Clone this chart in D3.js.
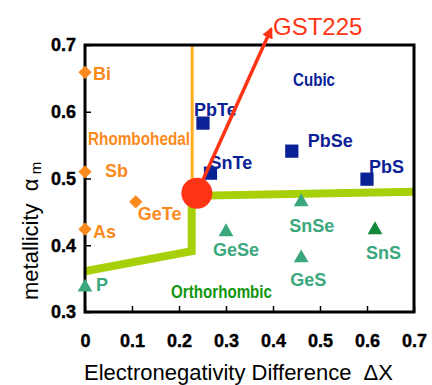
<!DOCTYPE html>
<html>
  <head>
    <meta charset="UTF-8" />
    <title>Metallicity vs Electronegativity Difference</title>
    <style>
      body { margin: 0; background: #fff; }
      text { font-family: Arial, "Liberation Sans", sans-serif; }
      .tick text { font-size: 18px; font-weight: bold; }
      .lbl { font-size: 18px; font-weight: bold; }
    </style>
    <script src="https://d3js.org/d3.v7.min.js"></script>
  </head>
  <body>
    <svg id="viz" width="432" height="385"></svg>
    <script>
      // data
      var rhombo = [
        { name: "Bi", dx: 0, a: 0.659 },
        { name: "Sb", dx: 0, a: 0.51 },
        { name: "As", dx: 0, a: 0.424 },
        { name: "GeTe", dx: 0.108, a: 0.465 },
      ];
      var cubic = [
        { name: "PbTe", dx: 0.251, a: 0.583 },
        { name: "SnTe", dx: 0.267, a: 0.508 },
        { name: "PbSe", dx: 0.44, a: 0.541 },
        { name: "PbS", dx: 0.6, a: 0.499 },
      ];
      var ortho = [
        { name: "P", dx: 0, a: 0.337 },
        { name: "GeSe", dx: 0.3, a: 0.42 },
        { name: "SnSe", dx: 0.46, a: 0.465 },
        { name: "GeS", dx: 0.46, a: 0.381 },
        { name: "SnS", dx: 0.617, a: 0.423 },
      ];
      var gst = { name: "GST225", dx: 0.238, a: 0.478 };
      var arrowTip = { dx: 0.396, a: 0.724 };
      var boundary = [[0, 0.361], [0.227, 0.391], [0.227, 0.474], [0.7, 0.48]];
      var rhomboEdge = [[0.228, 0.7], [0.228, 0.478]];
      var xTicks = [0, 0.1, 0.2, 0.3, 0.4, 0.5, 0.6, 0.7];
      var yTicks = [0.3, 0.4, 0.5, 0.6, 0.7];

      // label offsets in px from the marker (left edge, baseline)
      var labelOff = {
        Bi: [8, 8], Sb: [20, 5], As: [8, 9], GeTe: [2, 18],
        PbTe: [-9, -7], SnTe: [-1, -4], PbSe: [16, -4], PbS: [2, -6],
        P: [11, 4], GeSe: [-13, 24], SnSe: [-12, 30], GeS: [-11, 28], SnS: [-9, 29],
      };

      var orange = "#fb8a1c", navy = "#0b2196", teal = "#3aa87c", red = "#ff3414";

      var svg = d3.select("#viz");
      var x = d3.scaleLinear().domain([0, 0.7]).range([85, 414]);
      var y = d3.scaleLinear().domain([0.3, 0.7]).range([312, 45]);

      var xAxis = d3.axisBottom(x).tickValues(xTicks).tickSizeInner(-6).tickSizeOuter(0)
        .tickPadding(22).tickFormat(function (d) { return d === 0 ? "0" : d3.format(".1f")(d); });
      var yAxis = d3.axisLeft(y).tickValues(yTicks).tickSizeInner(-6).tickSizeOuter(0)
        .tickPadding(9).tickFormat(d3.format(".1f"));

      var gx = svg.append("g").attr("transform", "translate(0,312)").call(xAxis);
      var gy = svg.append("g").attr("transform", "translate(85,0)").call(yAxis);
      [gx, gy].forEach(function (g) {
        g.select(".domain").remove();
        g.selectAll(".tick line").attr("stroke", "#000").attr("stroke-width", 1.5);
        g.selectAll(".tick text").attr("fill", "#000").attr("stroke", "#000").attr("stroke-width", 0.4);
      });

      // orange boundary
      var line = d3.line().x(function (d) { return x(d[0]); }).y(function (d) { return y(d[1]); });
      svg.append("path").attr("d", line(rhomboEdge)).attr("stroke", "#ffad20")
        .attr("stroke-width", 3).attr("fill", "none");
      // green boundary
      svg.append("path").attr("d", line(boundary)).attr("stroke", "#a8d008")
        .attr("stroke-width", 8).attr("fill", "none").attr("stroke-linejoin", "miter");

      // frame
      svg.append("rect").attr("x", 85).attr("y", 45).attr("width", 329).attr("height", 267)
        .attr("fill", "none").attr("stroke", "#000").attr("stroke-width", 3);

      function addLabel(d, col) {
        var o = labelOff[d.name];
        svg.append("text").attr("class", "lbl").attr("fill", col)
          .attr("x", x(d.dx) + o[0]).attr("y", y(d.a) + o[1]).text(d.name);
      }

      rhombo.forEach(function (d) {
        svg.append("path").attr("d", d3.symbol(d3.symbolDiamond2, 112)())
          .attr("transform", "translate(" + x(d.dx) + "," + y(d.a) + ")")
          .attr("fill", orange);
        addLabel(d, orange);
      });
      cubic.forEach(function (d) {
        svg.append("path").attr("d", d3.symbol(d3.symbolSquare, 175)())
          .attr("transform", "translate(" + x(d.dx) + "," + y(d.a) + ")")
          .attr("fill", navy);
        addLabel(d, navy);
      });
      ortho.forEach(function (d) {
        svg.append("path").attr("d", d3.symbol(d3.symbolTriangle, 95)())
          .attr("transform", "translate(" + x(d.dx) + "," + y(d.a) + ")")
          .attr("fill", d.name === "SnS" ? "#12883a" : teal);
        addLabel(d, teal);
      });

      // GST225 arrow
      var defs = svg.append("defs");
      defs.append("marker").attr("id", "ah").attr("viewBox", "0 0 10 10")
        .attr("refX", 8).attr("refY", 5).attr("markerWidth", 3.2).attr("markerHeight", 3.2)
        .attr("orient", "auto").attr("markerUnits", "strokeWidth")
        .append("path").attr("d", "M0,0 L10,5 L0,10 z").attr("fill", red);
      svg.append("line").attr("x1", x(gst.dx)).attr("y1", y(gst.a))
        .attr("x2", x(arrowTip.dx)).attr("y2", y(arrowTip.a))
        .attr("stroke", red).attr("stroke-width", 3.5).attr("marker-end", "url(#ah)");
      svg.append("circle").attr("cx", x(gst.dx)).attr("cy", y(gst.a)).attr("r", 15.5).attr("fill", red);
      svg.append("text").attr("x", 273).attr("y", 35).attr("fill", red)
        .style("font-size", "24px").text(gst.name);

      // phase labels
      svg.append("text").attr("x", 88).attr("y", 145).attr("fill", orange)
        .style("font-size", "18px").style("font-weight", "bold")
        .attr("textLength", 102).attr("lengthAdjust", "spacingAndGlyphs").text("Rhombohedal");
      svg.append("text").attr("x", 293).attr("y", 86).attr("fill", navy)
        .style("font-size", "18px").style("font-weight", "bold")
        .attr("textLength", 42).attr("lengthAdjust", "spacingAndGlyphs").text("Cubic");
      svg.append("text").attr("x", 171).attr("y", 298).attr("fill", "#13960f")
        .style("font-size", "18px").style("font-weight", "bold")
        .attr("textLength", 101).attr("lengthAdjust", "spacingAndGlyphs").text("Orthorhombic");

      // axis titles
      svg.append("text").attr("x", 84).attr("y", 380).style("font-size", "22px")
        .attr("fill", "#000").attr("xml:space", "preserve").text("Electronegativity Difference  \u0394X");
      var yt = svg.append("text").attr("transform", "translate(38,300) rotate(-90)")
        .style("font-size", "22px").attr("fill", "#000").attr("xml:space", "preserve");
      yt.append("tspan").text("metallicity  \u03b1");
      yt.append("tspan").attr("dy", 3).style("font-size", "15px").text(" m");
    </script>
  </body>
</html>
